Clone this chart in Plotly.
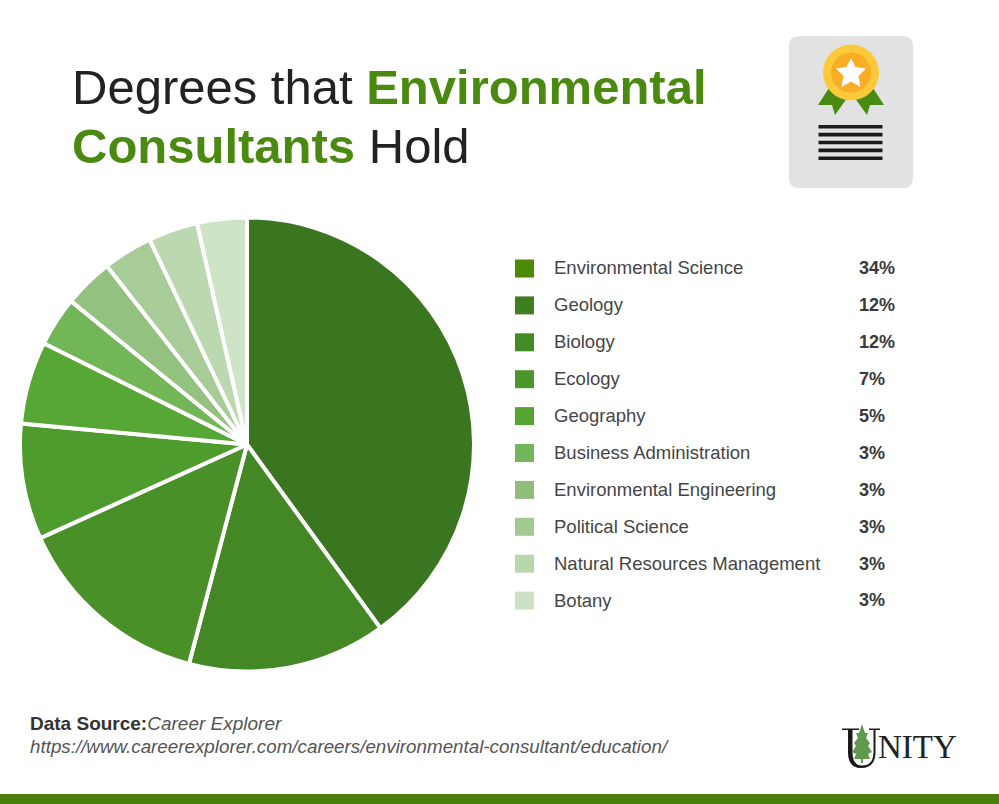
import plotly.graph_objects as go

W, H = 999, 804
categories = ["Environmental Science", "Geology", "Biology", "Ecology", "Geography",
              "Business Administration", "Environmental Engineering", "Political Science",
              "Natural Resources Management", "Botany"]
values = [34, 12, 12, 7, 5, 3, 3, 3, 3, 3]
slice_colors = ["#3a761f", "#438825", "#4a9029", "#4f9c2e", "#56a735",
                "#72b658", "#93c17f", "#a7cc98", "#bcd8b0", "#cfe3c7"]
key_colors = ["#4c8a04", "#3f7f22", "#458a28", "#4c962c", "#55a532",
              "#72b55a", "#90bd7c", "#a3c993", "#bad6ae", "#cde1c5"]
FONT = "Liberation Sans"
GREEN = "#4b8a10"


def X(p):
    return p / W


def Y(p):
    return 1 - p / H


cx, cy, r = 247, 444.5, 227
fig = go.Figure(go.Pie(
    labels=categories, values=values, sort=False, direction="clockwise", rotation=0,
    marker=dict(colors=slice_colors, line=dict(color="white", width=4)),
    textinfo="none", hoverinfo="label+text", text=[f"{v}%" for v in values], showlegend=False,
    domain=dict(x=[X(cx - r), X(cx + r)], y=[Y(cy + r), Y(cy - r)]),
))

shapes = []
annotations = []


def text(x, y, s, size, color="#222", anchor="left", font=FONT):
    annotations.append(dict(x=X(x), y=Y(y), xref="paper", yref="paper", text=s, showarrow=False,
                            xanchor=anchor, yanchor="middle", align="left", borderpad=0,
                            font=dict(family=font, size=size, color=color)))


def path(d, fill, line=None, lw=0):
    shapes.append(dict(type="path", xref="paper", yref="paper", path=d, fillcolor=fill,
                       line=dict(color=line or fill, width=lw), layer="above"))


def pp(points):
    return "M" + " L".join(f"{X(a):.5f},{Y(b):.5f}" for a, b in points) + " Z"


def rect(x0, y0, x1, y1, fill):
    shapes.append(dict(type="rect", xref="paper", yref="paper", x0=X(x0), x1=X(x1), y0=Y(y0), y1=Y(y1),
                       fillcolor=fill, line=dict(width=0), layer="above"))


def circle(xc, yc, rad, fill):
    shapes.append(dict(type="circle", xref="paper", yref="paper", x0=X(xc - rad), x1=X(xc + rad),
                       y0=Y(yc + rad), y1=Y(yc - rad), fillcolor=fill, line=dict(width=0), layer="above"))


# Title
text(71, 87, f'Degrees that <b><span style="color:{GREEN}">Environmental</span></b>', 49)
text(71, 146, f'<b><span style="color:{GREEN}">Consultants</span></b> Hold', 49)

# Legend rows
for i, (name, val, col) in enumerate(zip(categories, values, key_colors)):
    yy = 268.5 + i * 36.9
    rect(515, yy - 9, 534, yy + 9, col)
    text(552.5, yy - 0.5, name, 18.5, "#454545")
    text(858, yy - 0.2, f"<b>{val}%</b>", 18, "#3a3a3a")

# Footer
text(28.5, 723, '<b>Data Source:</b><i><span style="color:#555">Career Explorer</span></i>', 19, "#333")
text(28.5, 746, '<i>https://www.careerexplorer.com/careers/environmental-consultant/education/</i>', 18.8, "#555")
rect(0, 794, 999, 804, "#4b7f0c")

# Certificate icon
x0, y0, x1, y1, c = 789, 36, 913, 188, 10
shapes.append(dict(type="path", xref="paper", yref="paper", layer="above", fillcolor="#e2e2e2", line=dict(width=0),
                   path=(f"M{X(x0+c)},{Y(y0)} L{X(x1-c)},{Y(y0)} Q{X(x1)},{Y(y0)} {X(x1)},{Y(y0+c)} "
                         f"L{X(x1)},{Y(y1-c)} Q{X(x1)},{Y(y1)} {X(x1-c)},{Y(y1)} L{X(x0+c)},{Y(y1)} "
                         f"Q{X(x0)},{Y(y1)} {X(x0)},{Y(y1-c)} L{X(x0)},{Y(y0+c)} Q{X(x0)},{Y(y0)} {X(x0+c)},{Y(y0)} Z")))
path(pp([(829, 88), (818, 105), (832, 105), (835, 115), (850, 94)]), "#4b8a10")
path(pp([(873, 88), (884, 105), (870, 105), (867, 115), (852, 94)]), "#4b8a10")
circle(851, 72.5, 28, "#fcc93a")
circle(851, 72.5, 20, "#fbad26")
path(pp([(851, 58), (855.5, 67), (866, 68.5), (858.5, 76), (860.5, 87), (851, 81.5), (841.5, 87), (843.5, 76), (836, 68.5), (846.5, 67)]), "#ffffff")
for k in range(5):
    yy = 126.7 + k * 7.9
    rect(818.5, yy - 1.8, 882.5, yy + 1.8, "#1b1b1b")

# Logo
text(877, 747, "NITY", 33, "#222", font="Liberation Serif")
path(f"M{X(848)},{Y(730)} L{X(848)},{Y(752)} Q{X(848)},{Y(768)} {X(861)},{Y(768)} Q{X(875.5)},{Y(768)} {X(875.5)},{Y(752)} L{X(875.5)},{Y(730)} "
     f"L{X(873.5)},{Y(730)} L{X(873.5)},{Y(752)} Q{X(873.5)},{Y(765.5)} {X(862)},{Y(765.5)} Q{X(852.5)},{Y(765.5)} {X(852.5)},{Y(752)} L{X(852.5)},{Y(730)} Z",
     "#1a1a1a")
rect(842, 728.5, 859, 730, "#1a1a1a")
rect(869, 728.5, 880, 730, "#1a1a1a")
path(pp([(862, 724), (865, 733), (868, 733), (866, 738), (870, 743), (868, 746), (872, 752), (868, 754), (870, 759),
         (863, 759), (863, 763), (861, 763), (861, 759), (854, 759), (856, 754), (852, 752), (856, 746), (854, 743),
         (858, 738), (856, 733), (859, 733)]), "#5f9a4c")

fig.update_layout(width=W, height=H, margin=dict(l=0, r=0, t=0, b=0), paper_bgcolor="white",
                  plot_bgcolor="white", shapes=shapes, annotations=annotations,
                  font=dict(family=FONT))
fig.write_html("out.html", config=dict(displayModeBar=False),
               post_script="document.body.style.margin='0';")
